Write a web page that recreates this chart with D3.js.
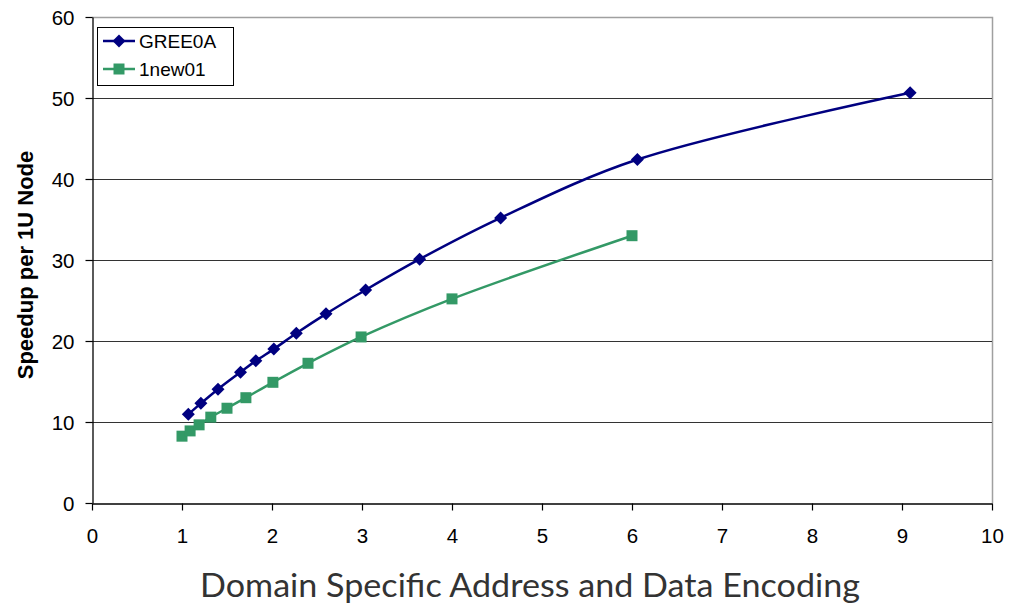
<!DOCTYPE html>
<html>
<head>
<meta charset="utf-8">
<script src="https://cdn.jsdelivr.net/npm/d3@7"></script>
<style>
  html, body { margin: 0; padding: 0; background: #fff; }
  svg { display: block; }
</style>
</head>
<body>
<svg id="chart" width="1018" height="604"></svg>
<script>
// Series: speedup per 1U node against domain-specific encoding factor
const gree0aX = [1.07, 1.21, 1.40, 1.65, 1.82, 2.02, 2.27, 2.60, 3.04, 3.64, 4.54, 6.06, 9.09];
const gree0aY = [10.95, 12.3, 14.05, 16.15, 17.55, 19.0, 20.95, 23.35, 26.3, 30.1, 35.2, 42.4, 50.65];

const new01X = [1.00, 1.09, 1.19, 1.32, 1.50, 1.71, 2.01, 2.40, 2.99, 4.00, 6.00];
const new01Y = [8.25, 8.9, 9.65, 10.6, 11.7, 13.0, 14.9, 17.25, 20.5, 25.2, 33.0];

const seriesNames = ["GREE0A", "1new01"];
const xTicks = [0, 1, 2, 3, 4, 5, 6, 7, 8, 9, 10];
const yTicks = [0, 10, 20, 30, 40, 50, 60];

const svg = d3.select("#chart");
const plotLeft = 92, plotRight = 992, plotTop = 17, plotBottom = 503;

const x = d3.scaleLinear().domain([0, 10]).range([plotLeft, plotRight]);
const y = d3.scaleLinear().domain([0, 60]).range([plotBottom, plotTop]);

// plot frame (top and right edges)
svg.append("path")
  .attr("d", `M${plotLeft},${plotTop + 0.5}H${plotRight + 0.5}V${plotBottom}`)
  .attr("fill", "none").attr("stroke", "#a0a0a0").attr("stroke-width", 1.5);

// horizontal gridlines
svg.append("g").selectAll("line")
  .data(yTicks.filter(d => d > 0 && d < 60))
  .join("line")
  .attr("x1", plotLeft).attr("x2", plotRight)
  .attr("y1", d => Math.round(y(d)) + 0.5).attr("y2", d => Math.round(y(d)) + 0.5)
  .attr("stroke", "#333").attr("stroke-width", 1.2);

// axes
const yAxis = svg.append("g")
  .attr("transform", `translate(${plotLeft + 0.5},0)`)
  .call(d3.axisLeft(y).tickValues(yTicks).tickSize(7).tickPadding(11).tickSizeOuter(0));
const xAxis = svg.append("g")
  .attr("transform", `translate(0,${plotBottom + 0.5})`)
  .call(d3.axisBottom(x).tickValues(xTicks).tickSize(7).tickPadding(18).tickSizeOuter(0));

[yAxis, xAxis].forEach(g => {
  g.select(".domain").attr("stroke", "#000").attr("stroke-width", 1.3);
  g.selectAll(".tick line").attr("stroke", "#000").attr("stroke-width", 1.2);
  g.selectAll(".tick text")
    .attr("fill", "#000")
    .style("font-family", "'Liberation Sans', Arial, sans-serif")
    .style("font-size", "20.5px");
});
yAxis.selectAll(".tick text").attr("dy", "0.36em");

// axis titles
svg.append("text")
  .attr("transform", `translate(33,265) rotate(-90)`)
  .attr("text-anchor", "middle")
  .style("font-family", "'Liberation Sans', Arial, sans-serif")
  .style("font-size", "22px").style("font-weight", "bold")
  .text("Speedup per 1U Node");

svg.append("text")
  .attr("x", 530).attr("y", 597)
  .attr("text-anchor", "middle")
  .attr("fill", "#333")
  .style("font-family", "Lato, 'Open Sans', sans-serif")
  .style("font-size", "32px")
  .attr("textLength", 660).attr("lengthAdjust", "spacingAndGlyphs")
  .text("Domain Specific Address and Data Encoding");

// series lines and markers
const series = [
  { name: seriesNames[0], xs: gree0aX, ys: gree0aY, color: "#000080", shape: "diamond" },
  { name: seriesNames[1], xs: new01X, ys: new01Y, color: "#339966", shape: "square" }
];

const line = d3.line()
  .x(d => x(d[0])).y(d => y(d[1]))
  .curve(d3.curveCatmullRom.alpha(0.5));

const diamond = s => `M0,${-s}L${s},0L0,${s}L${-s},0Z`;
const square = s => `M${-s},${-s}H${s}V${s}H${-s}Z`;
const markerPath = shape => shape === "diamond" ? diamond(6.5) : square(5.5);

series.forEach(s => {
  const pts = s.xs.map((v, i) => [v, s.ys[i]]);
  svg.append("path")
    .datum(pts)
    .attr("d", line)
    .attr("fill", "none")
    .attr("stroke", s.color)
    .attr("stroke-width", 2.5);
  svg.append("g").selectAll("path")
    .data(pts)
    .join("path")
    .attr("transform", d => `translate(${x(d[0])},${y(d[1])})`)
    .attr("d", markerPath(s.shape))
    .attr("fill", s.color);
});

// legend
const legend = svg.append("g").attr("transform", "translate(97,27)");
legend.append("rect")
  .attr("x", 0.5).attr("y", 0.5).attr("width", 136).attr("height", 58)
  .attr("fill", "#fff").attr("stroke", "#000").attr("stroke-width", 1);
series.forEach((s, i) => {
  const row = legend.append("g").attr("transform", `translate(0,${14 + i * 28})`);
  row.append("line").attr("x1", 6).attr("x2", 38).attr("y1", 0).attr("y2", 0)
    .attr("stroke", s.color).attr("stroke-width", 2.5);
  row.append("path").attr("transform", "translate(22,0)")
    .attr("d", markerPath(s.shape)).attr("fill", s.color);
  row.append("text").attr("x", 42).attr("y", 0).attr("dy", "0.36em")
    .style("font-family", "'Liberation Sans', Arial, sans-serif")
    .style("font-size", "19px")
    .text(s.name);
});
</script>
</body>
</html>
